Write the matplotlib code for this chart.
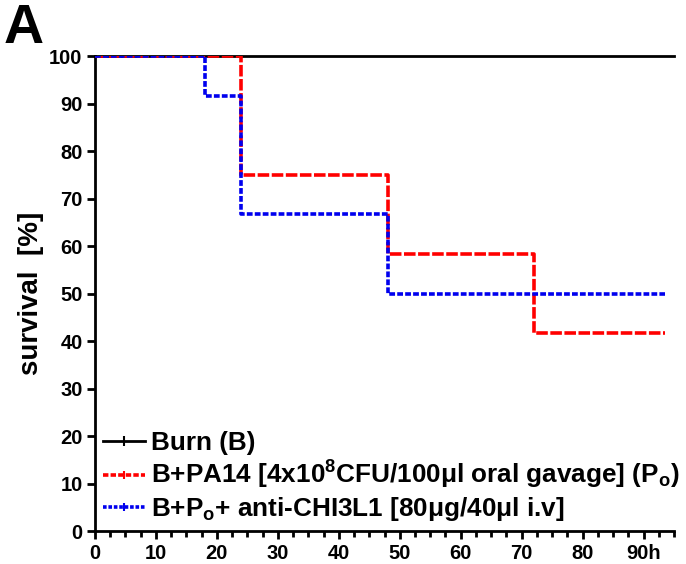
import matplotlib
matplotlib.use("Agg")
import matplotlib.pyplot as plt
from matplotlib.lines import Line2D
from matplotlib.ticker import MultipleLocator

plt.rcParams['font.family'] = ['Liberation Sans', 'DejaVu Sans']
plt.rcParams['font.weight'] = 'bold'

# Kaplan-Meier step data (time in h, survival in %)
burn_t = [0, 95]
burn_s = [100, 100]
pa14_t = [0, 24, 48, 72, 93.5]
pa14_s = [100, 75, 58.3, 41.7, 41.7]
anti_t = [0, 18, 24, 48, 93.5]
anti_s = [100, 91.7, 66.7, 50, 50]

labels = ["Burn (B)",
          r"B+PA14 [4x10$^{\mathbf{8}}$CFU/100$\mathbf{\mu}$l oral gavage] (P$_{\mathbf{o}}$)",
          r"B+P$_{\mathbf{o}}$+ anti-CHI3L1 [80$\mathbf{\mu}$g/40$\mathbf{\mu}$l i.v]"]
xticks = [0, 10, 20, 30, 40, 50, 60, 70, 80, 90]
xticklabels = ["0", "10", "20", "30", "40", "50", "60", "70", "80", "90h"]
yticks = [0, 10, 20, 30, 40, 50, 60, 70, 80, 90, 100]

plt.rcParams['mathtext.fontset'] = 'custom'
plt.rcParams['mathtext.rm'] = 'Liberation Sans:bold'
plt.rcParams['mathtext.bf'] = 'Liberation Sans:bold'
plt.rcParams['mathtext.it'] = 'Liberation Sans:bold'
plt.rcParams['mathtext.default'] = 'bf'

fig = plt.figure(figsize=(6.86, 5.64), dpi=100)
ax = fig.add_axes([0.1385, 0.0585, 0.844, 0.842])

ax.step(burn_t, burn_s, where='post', color='black', lw=2.0, zorder=3, clip_on=False)
ax.step(pa14_t, pa14_s, where='post', color='#ff0000', lw=2.6,
        dashes=(3.2, 0.7), zorder=4)
ax.step(anti_t, anti_s, where='post', color='#0000ee', lw=2.6,
        dashes=(1.6, 0.6), zorder=5)

ax.set_xlim(0, 95)
ax.set_ylim(0, 100)
ax.set_xticks(xticks)
ax.set_xticklabels(xticklabels)
ax.xaxis.set_minor_locator(MultipleLocator(2.5))
ax.set_yticks(yticks)
ax.tick_params(axis='both', which='major', labelsize=14.5, width=2, length=6, pad=3)
ax.tick_params(axis='x', which='minor', width=2, length=4)
for lab in ax.get_xticklabels() + ax.get_yticklabels():
    lab.set_fontweight('bold')
for s in ['top', 'right']:
    ax.spines[s].set_visible(False)
for s in ['left', 'bottom']:
    ax.spines[s].set_linewidth(2)

ax.set_ylabel("survival  [%]", fontsize=20, fontweight='bold', labelpad=4)

handles = [
    Line2D([0], [0], color='black', lw=2.0, marker='|', markersize=7, markeredgewidth=1.5),
    Line2D([0], [0], color='#ff0000', lw=2.6, dashes=(1.5, 0.6), marker='|', markersize=6, markeredgewidth=1.5),
    Line2D([0], [0], color='#0000ee', lw=2.6, dashes=(1.0, 0.5), marker='|', markersize=6, markeredgewidth=1.5),
]
leg = ax.legend(handles, labels, loc='lower left', bbox_to_anchor=(0.0, 0.0),
                frameon=False, fontsize=18.8, handlelength=1.6, handletextpad=0.25,
                labelspacing=0.15, borderaxespad=0.1, borderpad=0.2)
for t in leg.get_texts():
    t.set_fontweight('bold')

fig.text(0.005, 0.995, "A", fontsize=40, fontweight='bold', va='top', ha='left')

fig.savefig("out.png", dpi=100)
